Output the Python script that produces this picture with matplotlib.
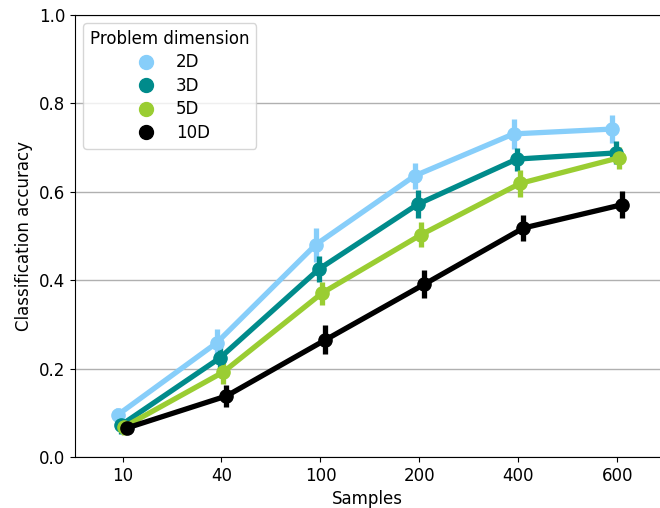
import matplotlib
matplotlib.use("Agg")
import matplotlib.pyplot as plt
import numpy as np

samples = ["10", "40", "100", "200", "400", "600"]
dimensions = ["2D", "3D", "5D", "10D"]
colors = ["#87cefa", "#008b8b", "#9acd32", "#000000"]

acc_2d = [0.095, 0.258, 0.480, 0.636, 0.731, 0.742]
acc_3d = [0.072, 0.224, 0.425, 0.572, 0.674, 0.688]
acc_5d = [0.068, 0.192, 0.371, 0.503, 0.619, 0.677]
acc_10d = [0.066, 0.138, 0.265, 0.391, 0.518, 0.571]

err_2d = [0.016, 0.031, 0.038, 0.030, 0.034, 0.031]
err_3d = [0.020, 0.028, 0.030, 0.031, 0.026, 0.026]
err_5d = [0.018, 0.026, 0.026, 0.028, 0.030, 0.025]
err_10d = [0.014, 0.026, 0.033, 0.031, 0.029, 0.030]

means = [acc_2d, acc_3d, acc_5d, acc_10d]
errors = [err_2d, err_3d, err_5d, err_10d]

plt.rcParams["font.size"] = 12

fig = plt.figure(figsize=(6.6, 5.08), dpi=100)
ax = fig.add_axes([75 / 660, 1 - 457 / 508, 585 / 660, 442 / 508])

x = np.arange(len(samples))
offsets = np.linspace(-0.05, 0.05, len(dimensions))
for name, color, mean, err, off in zip(dimensions, colors, means, errors, offsets):
    ax.errorbar(x + off, mean, yerr=err, color=color, lw=3.8, elinewidth=3.8,
                marker="o", ms=9.5, capsize=0, label=name, zorder=3)

ax.set_xticks(x)
ax.set_xticklabels(samples)
ax.set_xlim(-0.48, 5.43)
ax.set_ylim(0, 1)
ax.set_yticks(np.arange(0, 1.01, 0.2))
ax.yaxis.grid(True, color="#b0b0b0", lw=1)
ax.set_axisbelow(True)
ax.spines["right"].set_visible(False)
ax.set_xlabel("Samples")
ax.set_ylabel("Classification accuracy")

handles = [plt.Line2D([], [], ls="", marker="o", ms=10, color=c) for c in colors]
ax.legend(handles, dimensions, title="Problem dimension", loc="upper left",
          fontsize=12, title_fontsize=12, labelspacing=0.33)

fig.savefig("out.png", dpi=100, facecolor="white")
